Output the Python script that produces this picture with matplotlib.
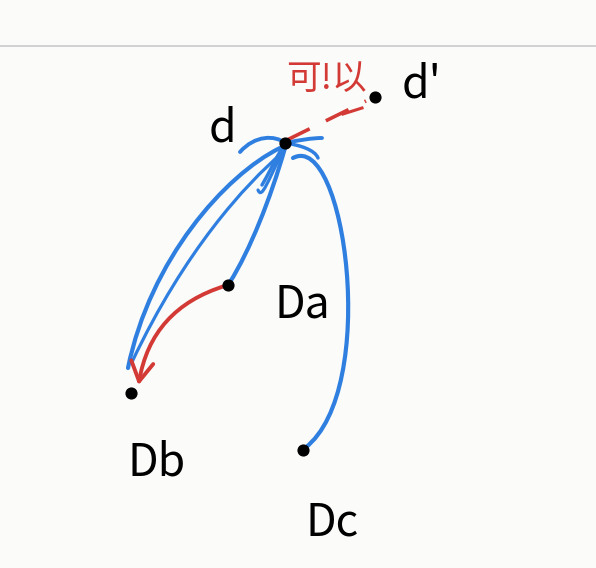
import matplotlib
matplotlib.use('Agg')
import matplotlib.pyplot as plt
import numpy as np
from matplotlib.patches import FancyArrowPatch
from matplotlib.path import Path
from matplotlib.patches import PathPatch

plt.rcParams['font.family'] = ['Noto Sans CJK SC', 'DejaVu Sans']

# Узлы (пиксельные координаты картинки)
node_names = ['d', "d'", 'Da', 'Db', 'Dc']
node_x = [285, 375, 228, 131, 303]
node_y = [143, 97, 285, 393, 450]
label_x = [222, 422, 302, 157, 332]
label_y = [128, 84, 305, 462, 522]
red_note = '可!以'

pos = {n: (x, y) for n, x, y in zip(node_names, node_x, node_y)}

fig = plt.figure(figsize=(5.96, 5.68), dpi=100, facecolor='#fbfbf9')
ax = fig.add_axes([0, 0, 1, 1])
ax.set_facecolor('#fbfbf9')
ax.set_xlim(0, 596)
ax.set_ylim(568, 0)
ax.axis('off')

blue = '#2f7fe0'
red = '#d33a35'

# верхняя линия листа
ax.plot([0, 596], [46, 46], color='#c9c9c9', lw=1.2)

def bez(p0, p1, p2, p3, color, lw=3):
    verts = [p0, p1, p2, p3]
    path = Path(verts, [Path.MOVETO, Path.CURVE4, Path.CURVE4, Path.CURVE4])
    ax.add_patch(PathPatch(path, fc='none', ec=color, lw=lw, capstyle='round'))

dx, dy = pos['d']
# d -> Db
bez((dx - 5, dy + 5), (225, 175), (150, 260), (128, 368), blue)
bez((dx - 3, dy + 10), (245, 185), (185, 250), (132, 362), blue, lw=2.3)
# d -> Da
bez((dx, dy + 5), (270, 200), (250, 250), (230, 282), blue)
bez((dx - 2, dy + 8), (268, 180), (262, 200), (258, 190), blue, lw=2.3)
# d -> Dc
bez((dx + 8, dy + 15), (345, 130), (380, 390), (305, 448), blue)
# веер штрихов вокруг d
bez((240, 152), (255, 135), (275, 135), (dx, dy), blue, lw=2.8)
bez((dx, dy), (300, 140), (312, 138), (322, 138), blue, lw=2.8)
bez((dx, dy), (300, 145), (315, 150), (318, 158), blue, lw=2.5)
bez((dx, dy), (275, 160), (268, 175), (262, 185), blue, lw=2.5)

# красная стрелка Da -> Db
arr = FancyArrowPatch(pos['Da'], (138, 388), connectionstyle='arc3,rad=0.32',
                      arrowstyle='->,head_length=14,head_width=8',
                      color=red, lw=2.8)
ax.add_patch(arr)

# красный пунктир d -> d'
ax.plot([dx + 2, 366], [dy - 3, 101], color=red, lw=2.6, ls=(0, (7, 5)))
ax.plot([343, 362], [114, 108], color=red, lw=2.2)
ax.text(326, 80, red_note, color=red, fontsize=25, ha='center', va='center')

# точки и подписи
ax.scatter(node_x, node_y, s=60, color='black', zorder=3)
for n, lx, ly in zip(node_names, label_x, label_y):
    ax.text(lx, ly, n, fontsize=32, ha='center', va='center', color='black')

plt.savefig('out.png', dpi=100, facecolor='#fbfbf9')
